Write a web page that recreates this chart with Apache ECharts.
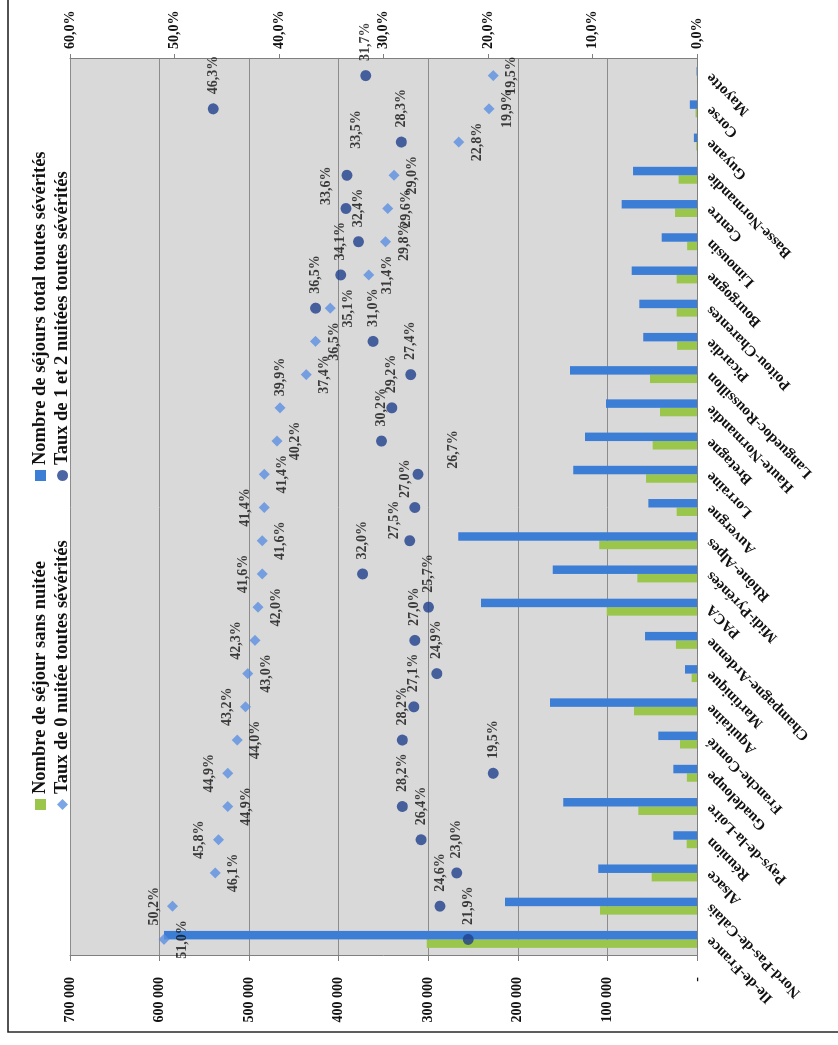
<!DOCTYPE html>
<html>
<head>
<meta charset="utf-8">
<script src="https://cdn.jsdelivr.net/npm/echarts/dist/echarts.min.js"></script>
<style>
  html, body { margin: 0; padding: 0; background: #fff; overflow: hidden; width: 838px; height: 1045px; }
  /* The chart is laid out landscape and turned a quarter turn to stand in the portrait page */
  #chart { position: absolute; left: 0; top: 0; width: 1045px; height: 838px;
           transform-origin: 0 0; transform: translateY(1045px) rotate(-90deg); }
</style>
</head>
<body>
<div id="chart"></div>
<script>
// Regions, in display order
const categories = ['Ile-de-France', 'Nord-Pas-de-Calais', 'Alsace', 'Réunion', 'Pays-de-la-Loire',
  'Guadeloupe', 'Franche-Comté', 'Aquitaine', 'Martinique', 'Champagne-Ardenne', 'PACA',
  'Midi-Pyrénées', 'Rhône-Alpes', 'Auvergne', 'Lorraine', 'Bretagne', 'Haute-Normandie',
  'Languedoc-Roussillon', 'Picardie', 'Poitou-Charentes', 'Bourgogne', 'Limousin', 'Centre',
  'Basse-Normandie', 'Guyane', 'Corse', 'Mayotte'];

// Number of stays without a night
const sejoursSansNuitee = [301800, 108300, 50600, 11500, 65500, 11300, 19000, 70300, 6000, 23500,
  100800, 66600, 109000, 22700, 56900, 49500, 41300, 52500, 22200, 22700, 22700, 11000, 24500,
  20500, 800, 1600, 100];

// Total number of stays, all severities
const sejoursTotal = [595000, 214400, 110200, 26400, 149200, 26400, 43200, 164100, 13400, 58000,
  241100, 161100, 266500, 54300, 138100, 125000, 101600, 141800, 60000, 64400, 72900, 39400, 84100,
  71400, 3500, 8000, 500];

// Rate of stays with 0 nights (%)
const tauxZeroNuitee = [51.0, 50.2, 46.1, 45.8, 44.9, 44.9, 44.0, 43.2, 43.0, 42.3, 42.0, 41.6, 41.6,
  41.4, 41.4, 40.2, 39.9, 37.4, 36.5, 35.1, 31.4, 29.8, 29.6, 29.0, 22.8, 19.9, 19.5];

// Rate of stays with 1 or 2 nights (%)
const tauxUnDeuxNuitees = [21.9, 24.6, 23.0, 26.4, 28.2, 19.5, 28.2, 27.1, 24.9, 27.0, 25.7, 32.0,
  27.5, 27.0, 26.7, 30.2, 29.2, 27.4, 31.0, 36.5, 34.1, 32.4, 33.6, 33.5, 28.3, 46.3, 31.7];

// Axis tick values
const countTicks = [0, 100000, 200000, 300000, 400000, 500000, 600000, 700000];
const rateTicks = [0, 10, 20, 30, 40, 50, 60];

// Side on which each 0-night label sits
const zeroLabelSide = ['bottom', 'top', 'bottom', 'top', 'bottom', 'top', 'bottom', 'top', 'bottom',
  'top', 'bottom', 'top', 'bottom', 'top', 'bottom', 'bottom', 'right', 'bottom', 'bottom', 'bottom',
  'bottom', 'bottom', 'bottom', 'bottom', 'bottom', 'bottom', 'bottom'];

// Nudges for the 1-2 nights labels that were moved off crowded spots
const dotLabelNudge = { 12: [-13, -15], 13: [-5, -9], 14: [-9, 35], 22: [-11, -19], 23: [12, 9] };

const FONT = '"Liberation Serif", "DejaVu Serif", serif';
const GREEN = '#9ac64c';
const BLUE = '#3c7dd6';
const DIAMOND = '#5a8fe0';
const DOT = '#1f3e8c';

const pct = v => v.toFixed(1).replace('.', ',') + '%';
const thousands = v => v === 0 ? '-' : String(v).replace(/\B(?=(\d{3})+(?!\d))/g, ' ');

const textStyle = { fontFamily: FONT, fontWeight: 'bold', fontSize: 14, color: '#111' };
const legendText = Object.assign({}, textStyle, { fontSize: 18.5 });

const chart = echarts.init(document.getElementById('chart'), null, { renderer: 'canvas' });

chart.setOption({
  animation: false,
  backgroundColor: '#ffffff',
  graphic: [{
    type: 'rect', silent: true, z: 100,
    shape: { x: 13, y: 8, width: 1100, height: 900 },
    style: { fill: 'transparent', stroke: '#1a1a1a', lineWidth: 1.4 }
  }],
  legend: [{
    orient: 'vertical', left: 230, top: 26, itemGap: 3, itemWidth: 11, itemHeight: 11,
    textStyle: legendText,
    data: [{ name: 'Nombre de séjour sans nuitée', icon: 'rect' },
           { name: 'Taux de 0 nuitée toutes sévérités', icon: 'diamond' }]
  }, {
    orient: 'vertical', left: 559, top: 26, itemGap: 3, itemWidth: 11, itemHeight: 11,
    textStyle: legendText,
    data: [{ name: 'Nombre de séjours total toutes sévérités', icon: 'rect' },
           { name: 'Taux de 1 et 2 nuitées toutes sévérités', icon: 'circle' }]
  }],
  grid: { left: 89, right: 59, top: 70, bottom: 141, show: true,
          backgroundColor: '#d9d9d9', borderWidth: 0 },
  xAxis: {
    type: 'category', data: categories,
    axisLine: { lineStyle: { color: '#7f7f7f', width: 1 } },
    axisTick: { length: 5, lineStyle: { color: '#7f7f7f' } },
    axisLabel: Object.assign({}, textStyle, { rotate: 45, interval: 0, margin: 12, fontSize: 15 })
  },
  yAxis: [{
    type: 'value', position: 'left',
    min: countTicks[0], max: countTicks[countTicks.length - 1], interval: countTicks[1] - countTicks[0],
    axisLine: { show: true, lineStyle: { color: '#7f7f7f' } },
    axisTick: { show: true, length: 5, lineStyle: { color: '#7f7f7f' } },
    splitLine: { show: true, lineStyle: { color: '#8c8c8c', width: 1 } },
    axisLabel: Object.assign({ margin: 21, formatter: thousands }, textStyle)
  }, {
    type: 'value', position: 'right',
    min: rateTicks[0], max: rateTicks[rateTicks.length - 1], interval: rateTicks[1] - rateTicks[0],
    axisLine: { show: true, lineStyle: { color: '#7f7f7f' } },
    axisTick: { show: true, length: 5, lineStyle: { color: '#7f7f7f' } },
    splitLine: { show: false },
    axisLabel: Object.assign({ margin: 10, formatter: pct }, textStyle)
  }],
  series: [{
    name: 'Nombre de séjour sans nuitée', type: 'bar',
    data: sejoursSansNuitee, itemStyle: { color: GREEN },
    barGap: '0%', barCategoryGap: '49%'
  }, {
    name: 'Nombre de séjours total toutes sévérités', type: 'bar',
    data: sejoursTotal, itemStyle: { color: BLUE },
    barGap: '0%', barCategoryGap: '49%'
  }, {
    name: 'Taux de 0 nuitée toutes sévérités', type: 'scatter', yAxisIndex: 1,
    symbol: 'diamond', symbolSize: 11, itemStyle: { color: DIAMOND }, z: 3,
    data: tauxZeroNuitee.map((v, i) => ({ value: v, label: { position: zeroLabelSide[i] } })),
    label: Object.assign({ show: true, distance: 6, formatter: p => pct(p.value) }, textStyle)
  }, {
    name: 'Taux de 1 et 2 nuitées toutes sévérités', type: 'scatter', yAxisIndex: 1,
    symbol: 'circle', symbolSize: 11, itemStyle: { color: DOT }, z: 4,
    data: tauxUnDeuxNuitees.map((v, i) => dotLabelNudge[i]
      ? { value: v, label: { offset: dotLabelNudge[i] } } : v),
    label: Object.assign({ show: true, position: 'right', distance: 9, formatter: p => pct(p.value) }, textStyle)
  }]
});
</script>
</body>
</html>
